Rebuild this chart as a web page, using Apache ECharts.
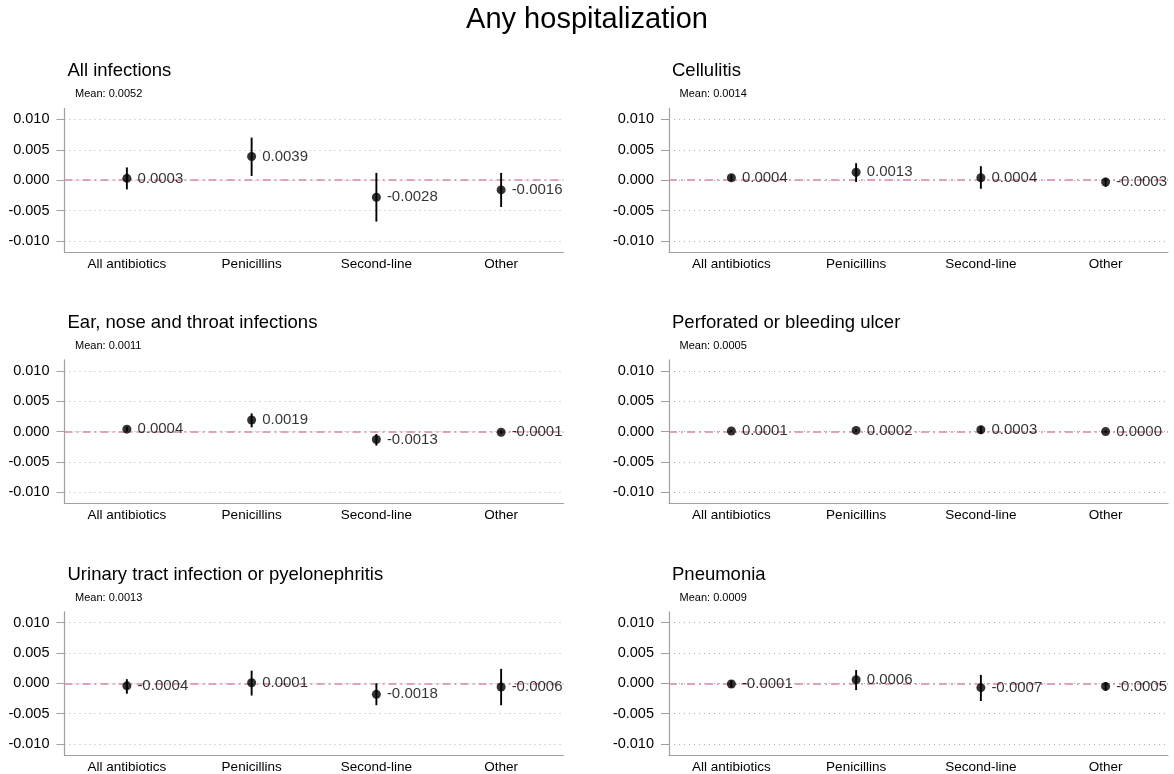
<!DOCTYPE html>
<html>
<head>
<meta charset="utf-8">
<script src="https://cdn.jsdelivr.net/npm/echarts@6/dist/echarts.min.js"></script>
<style>
  html, body { margin: 0; padding: 0; background: #fff; }
  #chart { width: 1174px; height: 774px; }
</style>
</head>
<body>
<div id="chart"></div>
<script>
// ---------- data ----------
const mainTitle = 'Any hospitalization';
const categories = ['All antibiotics', 'Penicillins', 'Second-line', 'Other'];
const yTickValues = [-0.01, -0.005, 0, 0.005, 0.01];

const panelTitles = [
  'All infections',
  'Cellulitis',
  'Ear, nose and throat infections',
  'Perforated or bleeding ulcer',
  'Urinary tract infection or pyelonephritis',
  'Pneumonia'
];
const panelMeans = ['0.0052', '0.0014', '0.0011', '0.0005', '0.0013', '0.0009'];

// point estimates per panel (order of categories)
const estAllInfections = [0.0003, 0.0039, -0.0028, -0.0016];
const estCellulitis    = [0.0004, 0.0013, 0.0004, -0.0003];
const estENT           = [0.0004, 0.0019, -0.0013, -0.0001];
const estUlcer         = [0.0001, 0.0002, 0.0003, 0.0000];
const estUTI           = [-0.0004, 0.0001, -0.0018, -0.0006];
const estPneumonia     = [-0.0001, 0.0006, -0.0007, -0.0005];

// lower confidence bounds
const loAllInfections = [-0.0015, 0.0007, -0.0068, -0.0044];
const loCellulitis    = [-0.0001, -0.0003, -0.0014, -0.0011];
const loENT           = [0.0000, 0.0007, -0.0023, -0.0004];
const loUlcer         = [-0.0001, 0.0000, -0.0004, -0.0002];
const loUTI           = [-0.0017, -0.0020, -0.0036, -0.0036];
const loPneumonia     = [-0.0007, -0.0011, -0.0029, -0.0012];

// upper confidence bounds
const hiAllInfections = [0.0021, 0.0070, 0.0012, 0.0012];
const hiCellulitis    = [0.0009, 0.0028, 0.0023, 0.0004];
const hiENT           = [0.0008, 0.0030, -0.0004, 0.0002];
const hiUlcer         = [0.0003, 0.0004, 0.0009, 0.0002];
const hiUTI           = [0.0007, 0.0021, 0.0000, 0.0024];
const hiPneumonia     = [0.0005, 0.0022, 0.0014, 0.0002];

const estimates = [estAllInfections, estCellulitis, estENT, estUlcer, estUTI, estPneumonia];
const lows  = [loAllInfections, loCellulitis, loENT, loUlcer, loUTI, loPneumonia];
const highs = [hiAllInfections, hiCellulitis, hiENT, hiUlcer, hiUTI, hiPneumonia];

// ---------- layout ----------
const FONT = '"Liberation Sans", Arial, Helvetica, sans-serif';
const colLeft = [64.5, 669];
const gridWidth = 499;
const rowTop = [108.4, 359.8, 611.8];
const gridHeight = 143.6;
const axisGray = '#a0a0a0';
const zeroColor = '#d885ad';

const chart = echarts.init(document.getElementById('chart'), null, { renderer: 'canvas' });

const titles = [{
  text: mainTitle,
  left: 'center',
  top: 5,
  padding: 0,
  textStyle: { fontFamily: FONT, fontSize: 29, fontWeight: 'normal', color: '#000' }
}];
const grids = [], xAxes = [], yAxes = [], series = [];

for (let i = 0; i < 6; i++) {
  const col = i % 2, row = Math.floor(i / 2);
  const left = colLeft[col], top = rowTop[row];
  titles.push({
    text: panelTitles[i],
    left: left + 3,
    top: top - 46.5,
    padding: 0,
    textStyle: { fontFamily: FONT, fontSize: 18.5, fontWeight: 'normal', color: '#000' }
  });
  titles.push({
    text: 'Mean: ' + panelMeans[i],
    left: left + 10.5,
    top: top - 19.5,
    padding: 0,
    textStyle: { fontFamily: FONT, fontSize: 11, fontWeight: 'normal', color: '#000' }
  });
  grids.push({ left: left, top: top, width: gridWidth, height: gridHeight, containLabel: false });
  xAxes.push({
    gridIndex: i,
    type: 'category',
    data: categories,
    boundaryGap: true,
    axisLine: { show: true, onZero: false, lineStyle: { color: axisGray, width: 1.2 } },
    axisTick: { show: false },
    axisLabel: { fontFamily: FONT, fontSize: 13.5, color: '#000', margin: 5, interval: 0 },
    splitLine: { show: false }
  });
  yAxes.push({
    gridIndex: i,
    type: 'value',
    min: -0.0118,
    max: 0.0118,
    axisLine: { show: true, onZero: false, lineStyle: { color: axisGray, width: 1.2 } },
    axisTick: { show: true, length: 8, customValues: yTickValues, lineStyle: { color: axisGray, width: 1 } },
    axisLabel: {
      customValues: yTickValues,
      fontFamily: FONT, fontSize: 14.5, color: '#000', margin: 15,
      formatter: v => v.toFixed(3)
    },
    splitLine: { show: true, lineStyle: { type: [1, 4], color: '#b0b0b0', width: 1 } }
  });

  const ciData = categories.map((c, k) => [k, lows[i][k], highs[i][k]]);
  series.push({
    type: 'custom',
    xAxisIndex: i, yAxisIndex: i,
    data: ciData,
    encode: { x: 0, y: [1, 2] },
    z: 3,
    silent: true,
    renderItem: function (params, api) {
      const p1 = api.coord([api.value(0), api.value(1)]);
      const p2 = api.coord([api.value(0), api.value(2)]);
      return {
        type: 'line',
        shape: { x1: p1[0], y1: p1[1], x2: p2[0], y2: p2[1] },
        style: { stroke: '#000', lineWidth: 1.9 }
      };
    }
  });
  series.push({
    type: 'scatter',
    xAxisIndex: i, yAxisIndex: i,
    data: estimates[i].map((v, k) => [k, v]),
    symbol: 'circle',
    symbolSize: 9,
    itemStyle: { color: '#000' },
    z: 4,
    silent: true,
    label: {
      show: true,
      position: 'right',
      distance: 6,
      fontFamily: FONT,
      fontSize: 15,
      color: '#000',
      formatter: p => p.value[1].toFixed(4)
    },
    markLine: {
      silent: true,
      symbol: 'none',
      label: { show: false },
      z: 2,
      lineStyle: { color: zeroColor, type: [8, 4, 2, 4], width: 1.5 },
      data: [{ yAxis: 0 }]
    }
  });
}

chart.setOption({
  backgroundColor: '#fff',
  animation: false,
  title: titles,
  grid: grids,
  xAxis: xAxes,
  yAxis: yAxes,
  series: series
});
</script>
</body>
</html>
